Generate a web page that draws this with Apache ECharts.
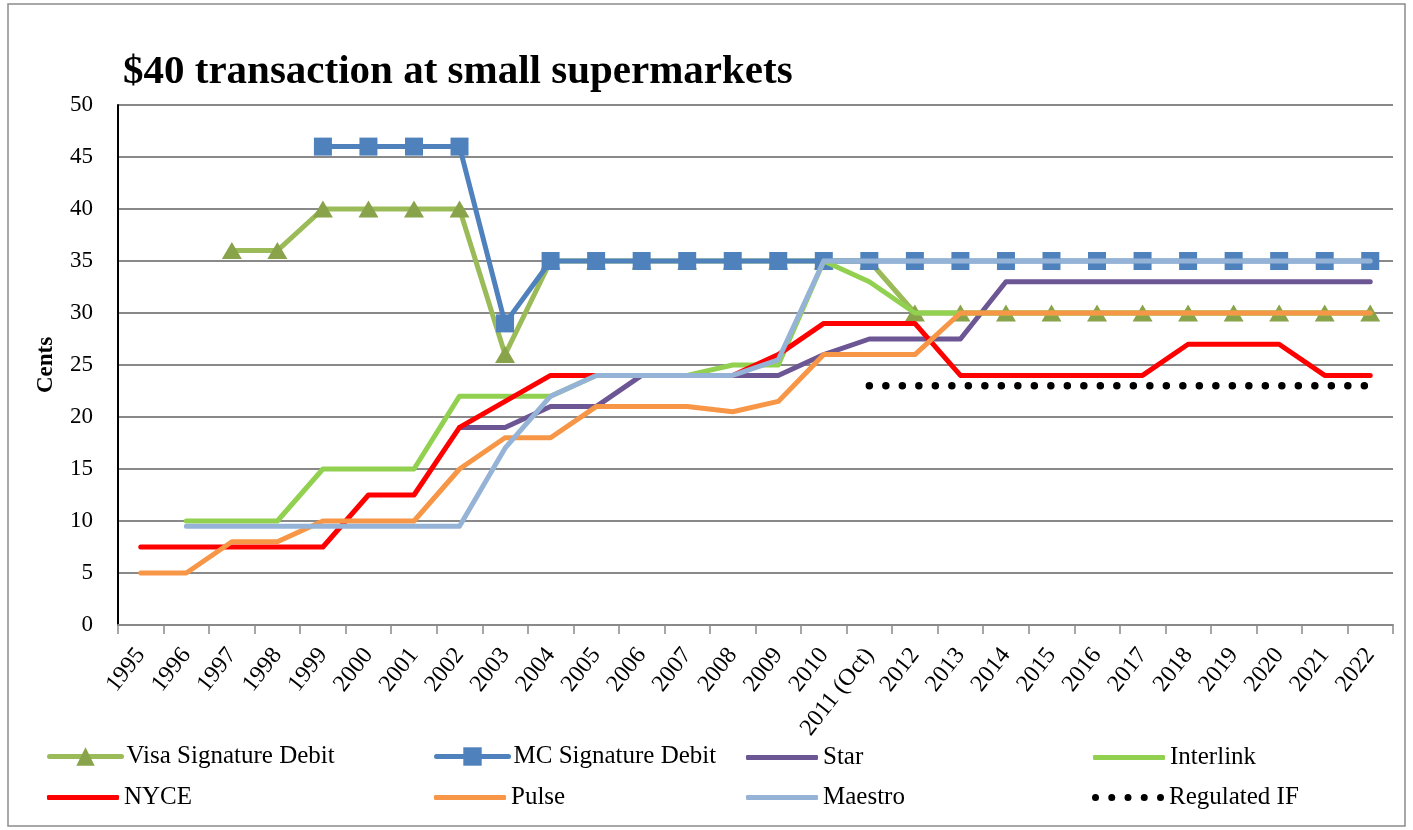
<!DOCTYPE html>
<html>
<head>
<meta charset="utf-8">
<script src="https://cdn.jsdelivr.net/npm/echarts@6/dist/echarts.min.js"></script>
<style>html,body{margin:0;padding:0;background:#fff;}#c{width:1413px;height:830px;}</style>
</head>
<body>
<div id="c"></div>
<script>
const categories = ['1995','1996','1997','1998','1999','2000','2001','2002','2003','2004','2005','2006','2007','2008','2009','2010','2011 (Oct)','2012','2013','2014','2015','2016','2017','2018','2019','2020','2021','2022'];
const visaSig   = [null,null,36,36,40,40,40,40,26,35,35,35,35,35,35,35,35,30,30,30,30,30,30,30,30,30,30,30];
const mcSig     = [null,null,null,null,46,46,46,46,29,35,35,35,35,35,35,35,35,35,35,35,35,35,35,35,35,35,35,35];
const star      = [null,null,null,null,null,null,null,19,19,21,21,24,24,24,24,26,27.5,27.5,27.5,33,33,33,33,33,33,33,33,33];
const interlink = [null,10,10,10,15,15,15,22,22,22,24,24,24,25,25,35,33,30,30,30,30,30,30,30,30,30,30,30];
const nyce      = [7.5,7.5,7.5,7.5,7.5,12.5,12.5,19,21.5,24,24,24,24,24,26,29,29,29,24,24,24,24,24,27,27,27,24,24];
const pulse     = [5,5,8,8,10,10,10,15,18,18,21,21,21,20.5,21.5,26,26,26,30,30,30,30,30,30,30,30,30,30];
const maestro   = [null,9.5,9.5,9.5,9.5,9.5,9.5,9.5,17,22,24,24,24,24,25.5,35,35,35,35,35,35,35,35,35,35,35,35,35];
const regulated = [null,null,null,null,null,null,null,null,null,null,null,null,null,null,null,null,23,23,23,23,23,23,23,23,23,23,23,23];
const yTicks = {min:0, max:50, interval:5};

const serif = 'Liberation Serif';
function ln(name, data, color, z, extra) {
  return Object.assign({
    name, type:'line', data, z, connectNulls:false, animation:false,
    showSymbol:false, symbol:'none',
    lineStyle:{color, width:5, cap:'round', join:'round'},
    itemStyle:{color},
    emphasis:{disabled:true}
  }, extra||{});
}
const series = [
  ln('Visa Signature Debit', visaSig, '#9BBB59', 2, {symbol:'triangle', showSymbol:true, symbolSize:[20,17], itemStyle:{color:'#88A34A'}}),
  ln('MC Signature Debit', mcSig, '#4F81BD', 3, {symbol:'rect', showSymbol:true, symbolSize:18, itemStyle:{color:'#4F81BD'}}),
  ln('Star', star, '#6C5693', 4),
  ln('Interlink', interlink, '#92D050', 5),
  ln('NYCE', nyce, '#FF0000', 6),
  ln('Pulse', pulse, '#F79646', 7),
  ln('Maestro', maestro, '#95B3D7', 8),
  ln('Regulated IF', regulated, '#000000', 9, {lineStyle:{color:'#000', width:7.5, type:[0,16.5], cap:'round'}})
];
const dotsIcon = 'path://M0,3.5a3.5,3.5 0 1,0 7,0a3.5,3.5 0 1,0 -7,0z M16.25,3.5a3.5,3.5 0 1,0 7,0a3.5,3.5 0 1,0 -7,0z M32.5,3.5a3.5,3.5 0 1,0 7,0a3.5,3.5 0 1,0 -7,0z M48.75,3.5a3.5,3.5 0 1,0 7,0a3.5,3.5 0 1,0 -7,0z M65,3.5a3.5,3.5 0 1,0 7,0a3.5,3.5 0 1,0 -7,0z';
function leg(name, left, row, opts) {
  return Object.assign({
    left, top: row === 0 ? 745 : 785, padding:0, itemWidth:72, itemHeight:5,
    icon:'roundRect', data:[name], selectedMode:false, itemGap:0,
    textStyle:{fontFamily:serif, fontSize:25, color:'#000', lineHeight:25}
  }, opts||{});
}
const chart = echarts.init(document.getElementById('c'));
chart.setOption({
  backgroundColor:'#fff',
  animation:false,
  title:{text:'$40 transaction at small supermarkets', left:118, top:47,
    textStyle:{fontFamily:serif, fontWeight:'bold', fontSize:41, color:'#000'}},
  graphic:[{type:'rect', shape:{x:8,y:4,width:1397,height:822}, style:{fill:null, stroke:'#8c8c8c', lineWidth:1.5}, silent:true}],
  grid:{left:118, right:20, top:105, bottom:205},
  legend:[
    leg('Visa Signature Debit', 47, 0, {icon:undefined, itemHeight:23, top:744, lineStyle:{width:5}}),
    leg('MC Signature Debit', 434, 0, {icon:undefined, itemHeight:23, top:744, lineStyle:{width:5}}),
    leg('Star', 746, 0),
    leg('Interlink', 1093, 0),
    leg('NYCE', 47, 1),
    leg('Pulse', 434, 1),
    leg('Maestro', 746, 1),
    leg('Regulated IF', 1092, 1, {icon:dotsIcon, itemHeight:7})
  ],
  xAxis:{type:'category', data:categories, boundaryGap:true,
    axisLine:{lineStyle:{color:'#898989', width:2}},
    axisTick:{show:true, length:9, lineStyle:{color:'#898989', width:1.5}},
    axisLabel:{rotate:52, fontFamily:serif, fontSize:24, color:'#000', margin:26, interval:0},
    splitLine:{show:false}},
  yAxis:{type:'value', min:yTicks.min, max:yTicks.max, interval:yTicks.interval,
    name:'Cents', nameLocation:'middle', nameGap:60, nameRotate:90,
    nameTextStyle:{fontFamily:serif, fontWeight:'bold', fontSize:23, color:'#000'},
    axisLine:{show:true, lineStyle:{color:'#000', width:2}},
    axisTick:{show:false},
    axisLabel:{fontFamily:serif, fontSize:23, color:'#000', margin:25},
    splitLine:{lineStyle:{color:'#898989', width:2}}},
  series
});
</script>
</body>
</html>
